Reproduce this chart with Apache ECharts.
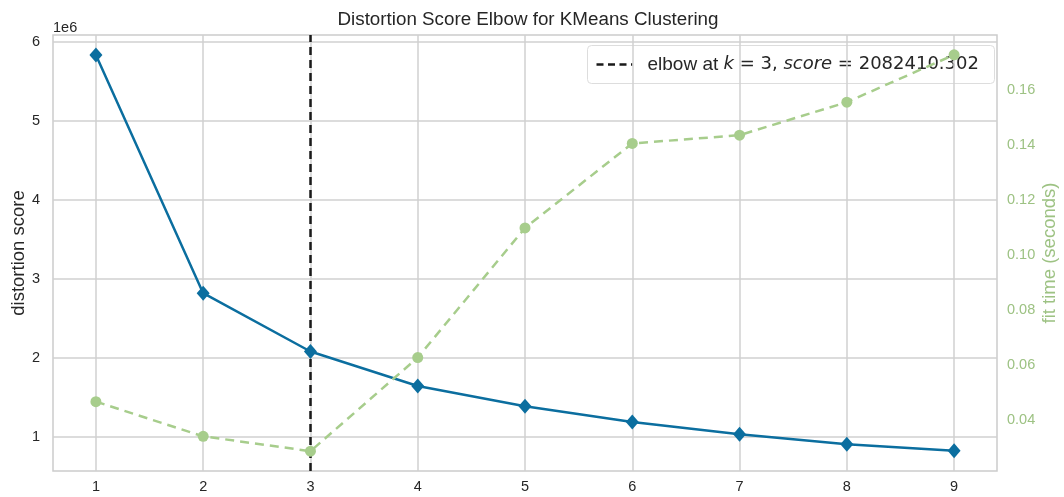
<!DOCTYPE html>
<html>
<head>
<meta charset="utf-8">
<script src="https://cdn.jsdelivr.net/npm/echarts@6/dist/echarts.min.js"></script>
<style>
html,body{margin:0;padding:0;background:#fff;}
#chart{width:1064px;height:497px;}
</style>
</head>
<body>
<div id="chart"></div>
<script>
// ---- data ----
const kValues = [1, 2, 3, 4, 5, 6, 7, 8, 9];
const distortion = [5835000, 2820000, 2082410.302, 1646000, 1390000, 1190000, 1034000, 908000, 827000];
const fitTime = [0.0467, 0.0341, 0.0287, 0.0627, 0.1098, 0.1405, 0.1435, 0.1555, 0.1727];
const xTicks = [1, 2, 3, 4, 5, 6, 7, 8, 9];
const leftTicks = [1000000, 2000000, 3000000, 4000000, 5000000, 6000000];
const rightTicks = [0.04, 0.06, 0.08, 0.10, 0.12, 0.14, 0.16];
const elbowK = 3;
const elbowScore = 2082410.302;

const blue = '#0b6e9f';
const green = '#a7cd8c';
const greenText = '#9dc283';
const gridCol = '#d0d0d0';
const textCol = '#262626';

const chart = echarts.init(document.getElementById('chart'), null, {renderer: 'canvas'});
const option = {
  backgroundColor: '#fff',
  animation: false,
  title: {
    text: 'Distortion Score Elbow for KMeans Clustering',
    left: 523, top: 5, textAlign: 'center',
    textStyle: {fontFamily: 'Liberation Sans', fontSize: 18.8, fontWeight: 'normal', color: textCol}
  },
  grid: {left: 53, right: 67, top: 35, bottom: 26, show: true, borderColor: '#cccccc', borderWidth: 1.5,
    containLabel: false, outerBoundsMode: 'none'},
  xAxis: {
    type: 'value', min: 0.6, max: 9.4,
    axisLine: {show: false},
    axisTick: {show: false, customValues: xTicks},
    axisLabel: {customValues: xTicks, color: textCol, fontSize: 14.5, fontFamily: 'Liberation Sans', margin: 8},
    splitLine: {show: true, lineStyle: {color: gridCol, width: 1.5}}
  },
  yAxis: [{
    type: 'value', min: 569600, max: 6088600, position: 'left',
    name: 'distortion score', nameLocation: 'middle', nameGap: 25, nameRotate: 90, nameMoveOverlap: false,
    nameTextStyle: {color: textCol, fontSize: 18.5, fontFamily: 'Liberation Sans'},
    axisLine: {show: false},
    axisTick: {show: false, customValues: leftTicks},
    axisLabel: {customValues: leftTicks, color: textCol, fontSize: 14.5, fontFamily: 'Liberation Sans', margin: 13,
      formatter: v => String(Math.round(v / 1e6))},
    splitLine: {show: true, lineStyle: {color: gridCol, width: 1.5}}
  }, {
    type: 'value', min: 0.0215, max: 0.1799, position: 'right',
    name: 'fit time (seconds)', nameLocation: 'middle', nameGap: 43, nameRotate: 90, nameMoveOverlap: false,
    nameTextStyle: {color: greenText, fontSize: 18.5, fontFamily: 'Liberation Sans'},
    axisLine: {show: false},
    axisTick: {show: false, customValues: rightTicks},
    axisLabel: {customValues: rightTicks, color: greenText, fontSize: 14.5, fontFamily: 'Liberation Sans', margin: 10,
      formatter: v => v.toFixed(2)},
    splitLine: {show: false}
  }],
  series: [{
    name: 'fit time', type: 'line', yAxisIndex: 1,
    data: kValues.map((k, i) => [k, fitTime[i]]),
    symbol: 'circle', symbolSize: 11,
    lineStyle: {color: green, width: 2.5, type: [9, 6]},
    itemStyle: {color: green},
    z: 5
  }, {
    name: 'distortion', type: 'line', yAxisIndex: 0,
    data: kValues.map((k, i) => [k, distortion[i]]),
    symbol: 'diamond', symbolSize: [13, 15],
    lineStyle: {color: blue, width: 2.5},
    itemStyle: {color: blue},
    z: 4,
    markLine: {
      silent: true, symbol: 'none', label: {show: false},
      lineStyle: {color: '#1a1a1a', width: 2.5, type: [8, 5]},
      data: [{xAxis: elbowK}],
      z: 3
    }
  }],
  graphic: [
    {type: 'text', left: 53, top: 20, style: {text: '1e6', fontSize: 14.5, fontFamily: 'Liberation Sans', fill: textCol}},
    {type: 'group', left: 587, top: 45, z: 4, children: [
      {type: 'rect', shape: {x: 0, y: 0, width: 407, height: 38, r: 4},
        style: {fill: 'rgba(255,255,255,0.9)', stroke: '#dddddd', lineWidth: 1}},
      {type: 'line', shape: {x1: 9, y1: 19, x2: 45, y2: 19},
        style: {stroke: '#1a1a1a', lineWidth: 2.5, lineDash: [7, 4.5]}},
      {type: 'text', x: 60, y: 19, style: {
        text: '{n|elbow at }{i|k}{m| = 3, }{i|score}{m| = ' + elbowScore.toFixed(3) + '}',
        verticalAlign: 'middle',
        rich: {
          n: {fontFamily: 'Liberation Sans', fontSize: 19, fill: textCol},
          i: {fontFamily: 'DejaVu Sans', fontStyle: 'italic', fontSize: 18, fill: textCol},
          m: {fontFamily: 'DejaVu Sans', fontSize: 18, fill: textCol}
        }
      }}
    ]}
  ]
};
chart.setOption(option);
</script>
</body>
</html>
